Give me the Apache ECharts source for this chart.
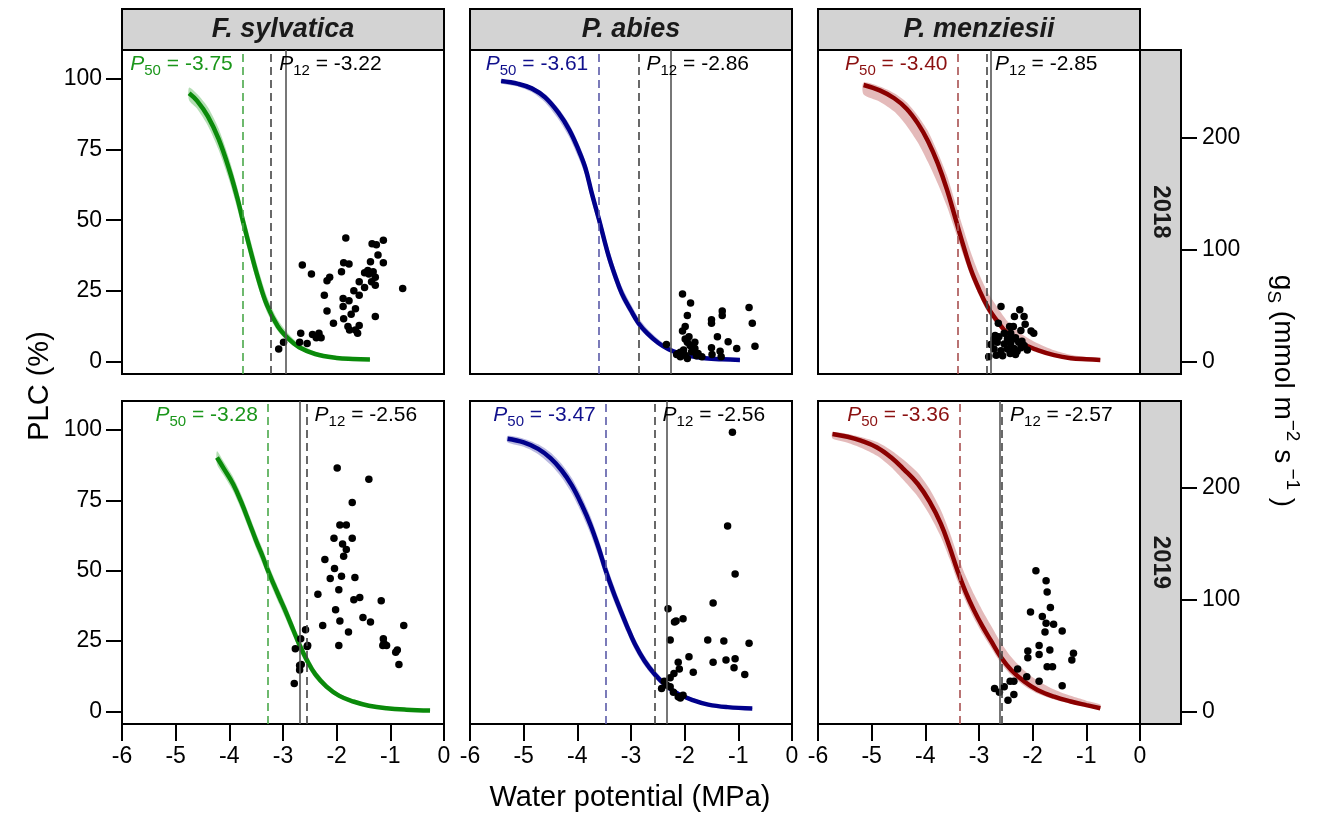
<!DOCTYPE html>
<html><head><meta charset="utf-8">
<script src="https://cdn.jsdelivr.net/npm/echarts@6/dist/echarts.min.js"></script>
<style>html,body{margin:0;padding:0;background:#fff}#c{width:1320px;height:819px}</style>
</head><body><div id="c"></div>
<script>
const FONT = 'Liberation Sans, Arial, Helvetica, sans-serif';

// ---- axes / labels ----
const psiTicks = [-6, -5, -4, -3, -2, -1, 0];
const plcTicks = [0, 25, 50, 75, 100];
const gsTicks = [0, 100, 200];
const speciesNames = ['F. sylvatica', 'P. abies', 'P. menziesii'];
const yearNames = ['2018', '2019'];

// ---- thresholds (MPa) : rows = years, cols = species ----
const p50Values = [[-3.75, -3.61, -3.40], [-3.28, -3.47, -3.36]];
const p12Values = [[-3.22, -2.86, -2.85], [-2.56, -2.56, -2.57]];
const psiMinValues = [[-2.94, -2.26, -2.79], [-2.69, -2.33, -2.62]];

// ---- F. sylvatica 2018 ----
const fs18Psi = [-4.75,-4.6,-4.4,-4.2,-4.0,-3.85,-3.75,-3.6,-3.45,-3.3,-3.1,-2.9,-2.7,-2.4,-2.0,-1.7,-1.38];
const fs18Plc = [95,92.3,86.8,78.8,67.8,57.8,50,38.8,28.5,20,12.5,8,5,2.6,1.2,0.8,0.6];
const fs18Lo  = [92.5,89.5,83.5,75,64,54,46.5,35.5,25.5,17.5,10.8,6.8,4.2,2.1,0.9,0.6,0.4];
const fs18Hi  = [97,94.7,90,82.5,71.5,61.5,53.5,42.5,32,23,14.8,9.8,6.3,3.4,1.7,1.2,0.9];
const fs18Gs = [[-3.08,11],[-2.99,17],[-2.64,86],[-2.47,78],[-2.67,25],[-2.69,17],[-2.55,16],[-2.45,24],[-2.33,25],[-2.29,21],[-2.38,21],[-2.23,59],[-2.18,45],[-2.18,72],[-2.13,75],[-2.06,34],[-1.91,80],[-1.87,88],[-1.77,87],[-1.83,110],[-1.88,56],[-1.88,49],[-1.77,54],[-1.87,38],[-1.73,42],[-1.65,47],[-1.68,63],[-1.58,59],[-1.58,71],[-1.48,66],[-1.79,31],[-1.76,28],[-1.61,25],[-1.58,32],[-1.65,28],[-1.48,79],[-1.42,81],[-1.37,89],[-1.32,80],[-1.28,75],[-1.28,68],[-1.34,105],[-1.26,104],[-1.13,108],[-1.23,95],[-1.13,88],[-1.28,40],[-0.77,65],[-1.40,78],[-1.35,71]];

// ---- P. abies 2018 ----
const pa18Psi = [-5.42,-5.1,-4.85,-4.6,-4.35,-4.15,-3.98,-3.85,-3.73,-3.6,-3.42,-3.3,-3.17,-3.0,-2.86,-2.7,-2.49,-2.3,-2.12,-1.9,-1.62,-1.3,-0.97];
const pa18Plc = [99.3,98.3,96.7,93.5,88,82,75,68.5,59.5,50.5,37.5,30.5,24,18,13.5,10,6.5,4.3,2.9,1.9,1.1,0.7,0.5];
const pa18Lo  = [98.5,97.3,95.4,91.7,85.7,79.4,72.2,65.7,56.7,47.7,34.9,28.1,21.9,16.2,12.0,8.8,5.6,3.6,2.4,1.5,0.8,0.5,0.3];
const pa18Hi  = [99.7,98.9,97.5,94.7,89.6,84.0,77.3,71.0,62.1,53.2,40.2,33.1,26.4,20.1,15.4,11.6,7.8,5.3,3.7,2.5,1.5,1.0,0.8];
const pa18Gs = [[-2.34,15],[-2.04,60],[-1.89,52],[-1.95,41],[-1.99,31],[-2.04,27],[-1.99,20],[-1.95,17],[-1.81,17],[-1.90,14],[-2.12,7],[-1.99,5.5],[-1.95,2.5],[-1.87,8.5],[-1.75,7],[-1.68,4],[-1.81,11.5],[-1.50,37],[-1.50,34],[-1.30,45],[-1.30,41],[-1.39,22],[-1.19,17.5],[-1.50,12],[-1.49,6],[-1.34,9],[-1.32,4],[-1.03,11.5],[-0.80,48],[-0.74,34],[-0.69,13.5],[-2.15,6],[-2.08,8],[-1.78,5],[-2.02,10],[-1.92,22],[-2.08,4]];

// ---- P. menziesii 2018 ----
const pm18Psi = [-5.15,-4.85,-4.58,-4.35,-4.14,-3.95,-3.77,-3.6,-3.43,-3.3,-3.15,-3.0,-2.84,-2.65,-2.47,-2.2,-1.91,-1.6,-1.29,-1.0,-0.74];
const pm18Plc = [97.9,96,93.2,89.5,84.3,78,70.2,61,50,41.5,32.4,25.5,19.3,14,9.9,6.3,4.0,2.2,1.1,0.7,0.5];
const pm18Lo  = [94.5,92,88.5,83.5,77.5,70.5,63,55,45.5,38,30,23.5,17.5,12.5,8.8,5.5,3.4,1.8,0.9,0.55,0.4];
const pm18Hi  = [98.8,97.4,95,91.8,87,81.5,74,66,55.5,47.5,38.5,31,24.5,19,14.2,9.6,6.4,3.9,2.3,1.5,1.1];
const pm18Gs = [[-2.59,49],[-2.24,46],[-2.16,40],[-2.34,40],[-2.64,34],[-2.14,33],[-2.36,31],[-1.98,25],[-2.03,27],[-2.70,23],[-2.53,25],[-2.41,25],[-2.47,20],[-2.32,21],[-2.66,17],[-2.53,15.5],[-2.41,16],[-2.26,17],[-2.20,18],[-2.72,11],[-2.59,9.5],[-2.47,11],[-2.35,11.5],[-2.22,12],[-2.10,10],[-2.82,4],[-2.68,5.5],[-2.56,5],[-2.42,7],[-2.32,6],[-2.16,14],[-2.78,15],[-2.63,22],[-2.43,31],[-2.22,27.5],[-2.72,20],[-2.29,9],[-2.38,19.5]];

// ---- F. sylvatica 2019 ----
const fs19Psi = [-4.23,-4.1,-3.93,-3.77,-3.62,-3.5,-3.37,-3.28,-3.17,-3.06,-2.94,-2.81,-2.69,-2.56,-2.4,-2.19,-1.95,-1.69,-1.4,-1.07,-0.7,-0.26];
const fs19Plc = [90.2,86.2,80.8,74,66.6,60.6,54.6,50,45,40.2,35,29,23.5,18.4,13.2,8.8,5.5,3.5,2,1.1,0.6,0.3];
const fs19Lo  = [87.8,83.7,78.2,71.3,63.9,57.9,51.9,47.4,42.4,37.6,32.5,26.7,21.4,16.6,11.8,7.8,4.8,3.0,1.7,0.9,0.45,0.2];
const fs19Hi  = [92.4,88.6,83.3,76.7,69.3,63.3,57.3,52.6,47.6,42.8,37.5,31.3,25.7,20.3,14.8,10.0,6.3,4.1,2.4,1.4,0.8,0.45];
const fs19Gs = [[-1.99,218],[-1.40,208],[-1.71,187],[-1.94,167],[-1.82,167],[-2.05,155],[-1.71,155],[-1.89,150],[-1.82,145],[-1.87,139],[-2.22,136],[-2.04,128],[-2.12,119],[-1.91,121],[-1.66,120],[-2.35,105],[-1.96,109],[-1.68,100],[-1.57,102],[-1.17,99],[-2.02,91],[-2.26,77],[-1.94,81],[-1.51,84],[-1.37,80],[-1.78,71],[-0.75,77],[-1.96,59],[-1.13,65],[-1.12,61],[-1.14,59],[-1.07,59],[-0.90,53],[-0.87,55],[-0.84,42],[-2.58,73],[-2.67,65],[-2.77,56],[-2.54,59],[-2.55,58],[-2.69,41],[-2.66,42],[-2.69,37],[-2.79,25]];

// ---- P. abies 2019 ----
const pa19Psi = [-5.3,-5.0,-4.73,-4.5,-4.29,-4.1,-3.92,-3.76,-3.61,-3.47,-3.35,-3.24,-3.08,-2.93,-2.75,-2.55,-2.35,-2.12,-1.85,-1.56,-1.2,-0.74];
const pa19Plc = [96.9,95.6,93.3,90,85.6,80.2,73.5,66.5,58.5,50,43.5,38,30.5,24,18,13,9.2,6.2,4,2.4,1.5,1.0];
const pa19Lo  = [95.6,94.0,91.4,87.7,83.0,77.3,70.4,63.3,55.4,47.1,40.7,35.4,28.2,22.0,16.3,11.6,8.1,5.4,3.4,2.0,1.2,0.8];
const pa19Hi  = [97.9,96.9,94.9,92.0,87.9,82.8,76.4,69.5,61.5,52.9,46.3,40.6,32.8,26.0,19.8,14.5,10.4,7.1,4.7,2.9,1.9,1.3];
const pa19Gs = [[-1.11,250],[-1.20,166],[-1.06,123],[-1.47,97],[-2.31,92],[-2.03,83],[-2.19,80],[-2.16,81],[-2.27,64],[-1.57,64],[-1.27,63],[-0.80,61],[-1.92,49],[-2.12,44],[-1.47,44],[-1.23,46],[-1.06,47],[-1.08,39],[-0.88,33],[-1.84,35],[-2.10,38],[-2.20,34],[-2.27,30],[-2.38,27],[-2.34,23.5],[-2.43,20.5],[-2.27,22],[-2.21,17],[-2.12,13],[-2.03,14.5],[-2.08,12]];

// ---- P. menziesii 2019 ----
const pm19Psi = [-5.73,-5.45,-5.2,-4.9,-4.64,-4.4,-4.14,-3.92,-3.71,-3.55,-3.4,-3.25,-3.09,-2.93,-2.78,-2.6,-2.4,-2.15,-1.91,-1.6,-1.29,-1.0,-0.74];
const pm19Plc = [98.6,97.6,96.2,93.8,90.3,86,80.8,74.5,66.6,58.5,50,42.5,35.8,30,25.2,19.5,14.7,10.5,7.6,5.2,3.5,2.2,1.1];
const pm19Lo  = [97.0,95.5,93.7,90.8,86.8,82.0,76.3,69.8,62.0,54.3,46.3,39.3,32.9,27.4,22.8,17.4,12.9,9.0,6.3,4.2,2.7,1.6,0.7];
const pm19Hi  = [99.2,98.6,97.5,95.7,92.8,89.3,84.8,79.0,71.5,63.8,55.5,48.2,41.5,35.6,30.6,24.6,19.3,14.4,10.9,7.8,5.5,3.8,2.4];
const pm19Gs = [[-1.94,126],[-1.75,117],[-1.73,107],[-1.67,93],[-2.04,89],[-1.82,85],[-1.75,79],[-1.61,78],[-1.77,71],[-1.45,72],[-1.88,59],[-2.09,54],[-1.68,55],[-1.88,51],[-2.09,48],[-1.24,52],[-1.27,46],[-1.73,40],[-1.63,40],[-2.28,38],[-2.11,31],[-1.88,27],[-2.42,27],[-2.35,27],[-1.45,23],[-2.71,20.5],[-2.53,22],[-2.62,17],[-2.35,15],[-2.46,10]];

// ---- styling ----
const curveColors = ['#0a8a0a', '#00008b', '#8b0000'];
const bandColors = ['rgba(40,160,40,0.35)', 'rgba(40,40,160,0.32)', 'rgba(170,40,40,0.32)'];
const p50DashColors = ['#4aa84a', '#5a5aa8', '#a85050'];
const p50TextColors = ['#1a961a', '#10108c', '#8b1010'];

const panels = [
  {psi: fs18Psi, plc: fs18Plc, lo: fs18Lo, hi: fs18Hi, gs: fs18Gs},
  {psi: pa18Psi, plc: pa18Plc, lo: pa18Lo, hi: pa18Hi, gs: pa18Gs},
  {psi: pm18Psi, plc: pm18Plc, lo: pm18Lo, hi: pm18Hi, gs: pm18Gs},
  {psi: fs19Psi, plc: fs19Plc, lo: fs19Lo, hi: fs19Hi, gs: fs19Gs},
  {psi: pa19Psi, plc: pa19Plc, lo: pa19Lo, hi: pa19Hi, gs: pa19Gs},
  {psi: pm19Psi, plc: pm19Plc, lo: pm19Lo, hi: pm19Hi, gs: pm19Gs}
];

const colLeft = [122, 470, 818];
const colWidth = 322;
const rowTop = [50, 401];
const rowHeight = [324, 323];
const PLC_MIN = -4.5, PLC_MAX = 110.3;
const GS_MIN = -11.34, GS_MAX = 278;
const LABEL_Y = 105.2;
const STRIP_W = 41;
const TICK_FONT = 23;

function richFor(col) {
  return {
    p: {fontSize: 21, fontStyle: 'italic', color: col, fontFamily: FONT, lineHeight: 28, verticalAlign: 'middle'},
    s: {fontSize: 15, color: col, fontFamily: FONT, lineHeight: 28, verticalAlign: 'bottom'},
    t: {fontSize: 21, color: col, fontFamily: FONT, lineHeight: 28, verticalAlign: 'middle'}
  };
}
const HIDDEN = {axisLine: {show: false, onZero: false}, axisTick: {show: false}, axisLabel: {show: false},
  splitLine: {show: false}, splitArea: {show: false}, minorTick: {show: false}};

const grids = [], xAxes = [], yAxes = [], series = [];
for (let r = 0; r < 2; r++) {
  for (let c = 0; c < 3; c++) {
    const i = r * 3 + c;
    const P = panels[i];
    grids.push({left: colLeft[c], top: rowTop[r], width: colWidth, height: rowHeight[r],
      show: true, borderColor: '#000', borderWidth: 2, backgroundColor: 'rgba(0,0,0,0)'});
    xAxes.push(r === 1 ? {type: 'value', gridIndex: i, min: -6, max: 0, interval: 1, position: 'bottom',
      axisLine: {show: false, onZero: false},
      axisTick: {show: true, length: 17, customValues: psiTicks, lineStyle: {color: '#000', width: 2}},
      axisLabel: {fontSize: TICK_FONT, color: '#000', margin: 21, fontFamily: FONT, customValues: psiTicks},
      splitLine: {show: false}}
      : Object.assign({type: 'value', gridIndex: i, min: -6, max: 0, interval: 1, position: 'bottom', show: false}, HIDDEN));
    yAxes.push(c === 0 ? {type: 'value', gridIndex: i, min: PLC_MIN, max: PLC_MAX, position: 'left',
      axisLine: {show: false, onZero: false},
      axisTick: {show: true, length: 16, customValues: plcTicks, lineStyle: {color: '#000', width: 2}},
      axisLabel: {customValues: plcTicks, fontSize: TICK_FONT, color: '#000', margin: 20, fontFamily: FONT},
      splitLine: {show: false}}
      : Object.assign({type: 'value', gridIndex: i, min: PLC_MIN, max: PLC_MAX, position: 'left', show: false}, HIDDEN));
    yAxes.push(c === 2 ? {type: 'value', gridIndex: i, min: GS_MIN, max: GS_MAX, position: 'right', offset: STRIP_W,
      axisLine: {show: false, onZero: false},
      axisTick: {show: true, length: 16, customValues: gsTicks, lineStyle: {color: '#000', width: 2}},
      axisLabel: {customValues: gsTicks, fontSize: TICK_FONT, color: '#000', margin: 21, fontFamily: FONT},
      splitLine: {show: false}}
      : Object.assign({type: 'value', gridIndex: i, min: GS_MIN, max: GS_MAX, position: 'right', show: false}, HIDDEN));

    const p50 = p50Values[r][c], p12 = p12Values[r][c], pmin = psiMinValues[r][c];
    // reference lines (behind everything)
    series.push({
      type: 'line', xAxisIndex: i, yAxisIndex: 2 * i, symbol: 'none', silent: true, z: 1,
      data: P.psi.map((x, k) => [x, P.plc[k]]), lineStyle: {opacity: 0},
      markLine: {silent: true, symbol: ['none', 'none'], label: {show: false}, animation: false,
        data: [
          {xAxis: p50, lineStyle: {color: p50DashColors[c], type: [8, 5], width: 1.6}},
          {xAxis: p12, lineStyle: {color: '#444', type: [8, 5], width: 1.6}},
          {xAxis: pmin, lineStyle: {color: '#555', type: 'solid', width: 1.6}}
        ]}
    });
    // confidence band polygon
    series.push({
      type: 'custom', xAxisIndex: i, yAxisIndex: 2 * i, silent: true, z: 2, clip: true,
      data: [[P.psi[0], P.plc[0]]],
      renderItem: (params, api) => {
        const pts = [];
        for (let k = 0; k < P.psi.length; k++) pts.push(api.coord([P.psi[k], P.hi[k]]));
        for (let k = P.psi.length - 1; k >= 0; k--) pts.push(api.coord([P.psi[k], P.lo[k]]));
        return {type: 'polygon', shape: {points: pts, smooth: 0.25}, style: {fill: bandColors[c], stroke: null}};
      }
    });
    // fitted curve
    series.push({
      type: 'line', xAxisIndex: i, yAxisIndex: 2 * i, smooth: 0.4, symbol: 'none',
      data: P.psi.map((x, k) => [x, P.plc[k]]), lineStyle: {color: curveColors[c], width: 4.5}, silent: true, z: 3
    });
    // stomatal conductance points
    series.push({
      type: 'scatter', xAxisIndex: i, yAxisIndex: 2 * i + 1, symbolSize: 7.5,
      data: P.gs, itemStyle: {color: '#000', opacity: 1}, silent: true, z: 4
    });
    // P50 / P12 annotations
    series.push({
      type: 'scatter', xAxisIndex: i, yAxisIndex: 2 * i, symbolSize: 0, silent: true, z: 5,
      itemStyle: {opacity: 1},
      data: [
        {value: [p50, LABEL_Y], label: {show: true, position: 'left', distance: 10, opacity: 1,
          formatter: '{p|P}{s|50}{t| = ' + p50.toFixed(2) + '}', rich: richFor(p50TextColors[c])}},
        {value: [p12, LABEL_Y], label: {show: true, position: 'right', distance: 8, opacity: 1,
          formatter: '{p|P}{s|12}{t| = ' + p12.toFixed(2) + '}', rich: richFor('#000')}}
      ]
    });
  }
}

const graphic = [];
for (let c = 0; c < 3; c++) {
  graphic.push({type: 'rect', shape: {x: colLeft[c], y: 9, width: colWidth, height: 41},
    style: {fill: '#d3d3d3', stroke: '#000', lineWidth: 2}, silent: true});
  graphic.push({type: 'text', x: colLeft[c] + colWidth / 2, y: 30, silent: true,
    style: {text: speciesNames[c], font: 'italic bold 27px ' + FONT, fill: '#1a1a1a',
      align: 'center', verticalAlign: 'middle', textAlign: 'center', textVerticalAlign: 'middle'}});
}
for (let r = 0; r < 2; r++) {
  const x0 = colLeft[2] + colWidth;
  graphic.push({type: 'rect', shape: {x: x0, y: rowTop[r], width: STRIP_W, height: rowHeight[r]},
    style: {fill: '#d3d3d3', stroke: '#000', lineWidth: 2}, silent: true});
  graphic.push({type: 'text', x: x0 + STRIP_W / 2, y: rowTop[r] + rowHeight[r] / 2, rotation: -Math.PI / 2, silent: true,
    style: {text: yearNames[r], font: 'bold 24px ' + FONT, fill: '#1a1a1a',
      align: 'center', verticalAlign: 'middle', textAlign: 'center', textVerticalAlign: 'middle'}});
}
graphic.push({type: 'text', x: 40, y: 386, rotation: Math.PI / 2, silent: true,
  style: {text: 'PLC (%)', font: '29px ' + FONT, fill: '#000', align: 'center', verticalAlign: 'middle',
    textAlign: 'center', textVerticalAlign: 'middle'}});
graphic.push({type: 'text', x: 630, y: 798, silent: true,
  style: {text: 'Water potential (MPa)', font: '29px ' + FONT, fill: '#000', align: 'center', verticalAlign: 'middle',
    textAlign: 'center', textVerticalAlign: 'middle'}});
graphic.push({type: 'text', x: 1283, y: 391, rotation: -Math.PI / 2, silent: true,
  style: {text: '{a|g}{b|S}{a| (mmol m}{c|−2}{a| s}{c| −1}{a| )}', align: 'center', verticalAlign: 'middle',
    textAlign: 'center', textVerticalAlign: 'middle', fill: '#000',
    rich: {
      a: {fontSize: 28, fontFamily: FONT, fill: '#000', color: '#000', lineHeight: 38, verticalAlign: 'middle'},
      b: {fontSize: 19, fontFamily: FONT, fill: '#000', color: '#000', lineHeight: 38, verticalAlign: 'bottom'},
      c: {fontSize: 19, fontFamily: FONT, fill: '#000', color: '#000', lineHeight: 38, verticalAlign: 'top'}
    }}});

const chart = echarts.init(document.getElementById('c'), null, {renderer: 'canvas'});
chart.setOption({
  animation: false,
  backgroundColor: '#fff',
  textStyle: {fontFamily: FONT},
  grid: grids,
  xAxis: xAxes,
  yAxis: yAxes,
  series: series,
  graphic: graphic
});
</script></body></html>
